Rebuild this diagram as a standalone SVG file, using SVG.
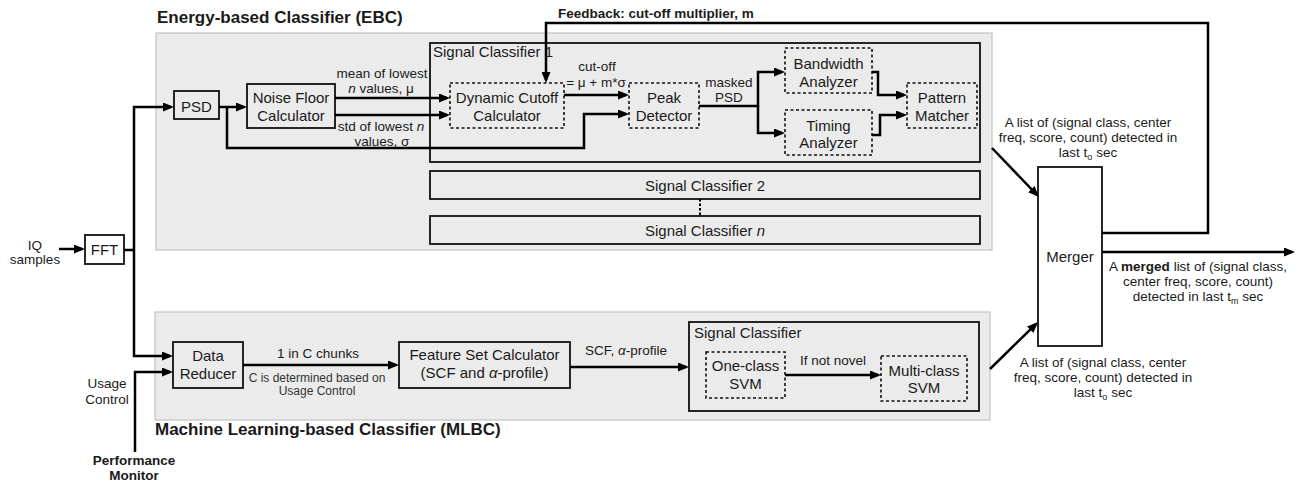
<svg xmlns="http://www.w3.org/2000/svg" width="1296" height="482" viewBox="0 0 1296 482">
  <style>
    text { font-family: "Liberation Sans", Arial, sans-serif; fill: #1a1a1a; }
    .t15 { font-size: 15px; }
    .t13 { font-size: 13.5px; }
    .t12 { font-size: 12px; fill: #333; }
    .title { font-size: 17px; font-weight: bold; }
    .bold { font-weight: bold; }
    .mid { text-anchor: middle; }
    .panel { fill: #ebebeb; stroke: #c4c4c4; stroke-width: 1.2; }
    .box { fill: none; stroke: #111; stroke-width: 1.8; }
    .wbox { fill: #fff; stroke: #111; stroke-width: 1.8; }
    .dash { fill: none; stroke: #111; stroke-width: 1.6; stroke-dasharray: 3 2.5; }
    .wire { fill: none; stroke: #000; stroke-width: 2.5; stroke-linejoin: miter; }
    .arr { marker-end: url(#ah); }
  </style>
  <defs>
    <marker id="ah" viewBox="0 0 11 9" refX="8" refY="4.5" markerWidth="11" markerHeight="9" markerUnits="userSpaceOnUse" orient="auto">
      <path d="M0,0 L11,4.5 L0,9 z" fill="#000"/>
    </marker>
  </defs>

  <!-- EBC panel -->
  <g id="ebc">
    <rect class="panel" x="156" y="33" width="836" height="217"/>
    <text class="title" x="157" y="23">Energy-based Classifier (EBC)</text>
  </g>

  <!-- MLBC panel -->
  <g id="mlbc">
    <rect class="panel" x="155" y="312" width="835" height="108"/>
    <text class="title" x="155" y="435">Machine Learning-based Classifier (MLBC)</text>
  </g>

  <!-- inputs -->
  <g id="iq-samples">
    <text class="t13 mid" x="35" y="250">IQ</text>
    <text class="t13 mid" x="35" y="264">samples</text>
  </g>
  <g id="fft">
    <rect class="wbox" x="85" y="235" width="39" height="29"/>
    <text class="t15 mid" x="104.5" y="255">FFT</text>
  </g>
  <g id="usage-control">
    <text class="t13 mid" x="107" y="388">Usage</text>
    <text class="t13 mid" x="107" y="404">Control</text>
  </g>
  <g id="performance-monitor">
    <text class="t13 mid bold" x="134" y="465">Performance</text>
    <text class="t13 mid bold" x="134" y="480">Monitor</text>
  </g>

  <!-- EBC nodes -->
  <g id="psd">
    <rect class="box" x="174" y="91" width="45" height="28"/>
    <text class="t15 mid" x="196.5" y="112">PSD</text>
  </g>
  <g id="noise-floor">
    <rect class="box" x="247" y="84" width="88" height="44"/>
    <text class="t15 mid" x="291" y="103">Noise Floor</text>
    <text class="t15 mid" x="291" y="121">Calculator</text>
  </g>
  <g id="signal-classifier-1">
    <rect class="box" x="430" y="43" width="550" height="119"/>
    <text class="t15" x="433" y="57">Signal Classifier 1</text>
  </g>
  <g id="dynamic-cutoff">
    <rect class="dash" x="450" y="83" width="114" height="45"/>
    <text class="t15 mid" x="507" y="103">Dynamic Cutoff</text>
    <text class="t15 mid" x="507" y="121">Calculator</text>
  </g>
  <g id="peak-detector">
    <rect class="dash" x="629" y="83" width="70" height="45"/>
    <text class="t15 mid" x="664" y="103">Peak</text>
    <text class="t15 mid" x="664" y="121">Detector</text>
  </g>
  <g id="bandwidth-analyzer">
    <rect class="dash" x="785" y="48" width="87" height="45"/>
    <text class="t15 mid" x="828.5" y="69">Bandwidth</text>
    <text class="t15 mid" x="828.5" y="87">Analyzer</text>
  </g>
  <g id="timing-analyzer">
    <rect class="dash" x="785" y="110" width="87" height="45"/>
    <text class="t15 mid" x="828.5" y="131">Timing</text>
    <text class="t15 mid" x="828.5" y="148">Analyzer</text>
  </g>
  <g id="pattern-matcher">
    <rect class="dash" x="907" y="83" width="70" height="45"/>
    <text class="t15 mid" x="942" y="103">Pattern</text>
    <text class="t15 mid" x="942" y="121">Matcher</text>
  </g>
  <g id="signal-classifier-2">
    <rect class="box" x="430" y="171" width="550" height="28"/>
    <text class="t15 mid" x="705" y="191">Signal Classifier 2</text>
  </g>
  <g id="signal-classifier-n">
    <rect class="box" x="430" y="216" width="550" height="28"/>
    <text class="t15 mid" x="705" y="236">Signal Classifier <tspan font-style="italic">n</tspan></text>
  </g>

  <!-- MLBC nodes -->
  <g id="data-reducer">
    <rect class="box" x="173" y="342" width="70" height="46"/>
    <text class="t15 mid" x="208" y="361">Data</text>
    <text class="t15 mid" x="208" y="379">Reducer</text>
  </g>
  <g id="feature-set">
    <rect class="box" x="399" y="342" width="171" height="46"/>
    <text class="t15 mid" x="484.5" y="360">Feature Set Calculator</text>
    <text class="t15 mid" x="484.5" y="378">(SCF and <tspan font-style="italic">α</tspan>-profile)</text>
  </g>
  <g id="signal-classifier">
    <rect class="box" x="689" y="322" width="290" height="89"/>
    <text class="t15" x="694" y="338">Signal Classifier</text>
  </g>
  <g id="one-class-svm">
    <rect class="dash" x="706" y="352" width="79" height="46"/>
    <text class="t15 mid" x="745.5" y="371">One-class</text>
    <text class="t15 mid" x="745.5" y="389">SVM</text>
  </g>
  <g id="multi-class-svm">
    <rect class="dash" x="881" y="356" width="86" height="45"/>
    <text class="t15 mid" x="924" y="376">Multi-class</text>
    <text class="t15 mid" x="924" y="393">SVM</text>
  </g>

  <!-- merger -->
  <g id="merger">
    <rect class="wbox" x="1038" y="167" width="64" height="179"/>
    <text class="t15 mid" x="1070" y="262">Merger</text>
  </g>

  <!-- connectors -->
  <g id="connectors">
    <path class="wire arr" d="M59,249 H82"/>
    <path class="wire" d="M124,250 H134"/>
    <path class="wire arr" d="M134,250 V107 H171"/>
    <path class="wire arr" d="M134,250 V356 H170"/>
    <path class="wire arr" d="M135,452 V372 H170"/>
    <path class="wire arr" d="M219,107 H244"/>
    <path class="wire arr" d="M227,107 V148 H584 V114 H626"/>
    <path class="wire arr" d="M335,98 H447"/>
    <path class="wire arr" d="M335,115 H447"/>
    <path class="wire arr" d="M564,95 H626"/>
    <path class="wire arr" d="M1102,233 H1208 V23 H546 V80"/>
    <path class="wire arr" d="M699,106 H758 V72 H782"/>
    <path class="wire arr" d="M758,106 V133 H782"/>
    <path class="wire arr" d="M872,72 H878 V95 H904"/>
    <path class="wire arr" d="M872,135 H880 V115 H904"/>
    <path class="wire arr" d="M992,148 L1036.9,194.8"/>
    <path class="wire arr" d="M990,369 L1035.9,324.1"/>
    <path class="wire arr" d="M1102,252 H1292"/>
    <path class="wire arr" d="M243,365 H396"/>
    <path class="wire arr" d="M570,367 H686"/>
    <path class="wire arr" d="M785,375 H878"/>
    <path d="M700,199 V216" fill="none" stroke="#000" stroke-width="2" stroke-dasharray="2.5 2"/>
  </g>

  <!-- connector labels -->
  <g id="labels">
    <text class="t13 bold" x="558" y="18">Feedback: cut-off multiplier, m</text>
    <text class="t13 mid" x="382" y="78">mean of lowest</text>
    <text class="t13 mid" x="381" y="93"><tspan font-style="italic">n</tspan> values, μ</text>
    <text class="t13 mid" x="381" y="131">std of lowest <tspan font-style="italic">n</tspan></text>
    <text class="t13 mid" x="382" y="146">values, σ</text>
    <text class="t13 mid" x="597" y="71">cut-off</text>
    <text class="t13 mid" x="596" y="87">= μ + m*σ</text>
    <text class="t13 mid" x="729" y="87">masked</text>
    <text class="t13 mid" x="729" y="102">PSD</text>
    <text class="t13 mid" x="1088" y="127">A list of (signal class, center</text>
    <text class="t13 mid" x="1088" y="142">freq, score, count) detected in</text>
    <text class="t13 mid" x="1088" y="157">last t<tspan font-size="9" dy="3">o</tspan><tspan dy="-3"> sec</tspan></text>
    <text class="t13 mid" x="1198" y="271">A <tspan font-weight="bold">merged</tspan> list of (signal class,</text>
    <text class="t13 mid" x="1198" y="286">center freq, score, count)</text>
    <text class="t13 mid" x="1198" y="301">detected in last t<tspan font-size="9" dy="3">m</tspan><tspan dy="-3"> sec</tspan></text>
    <text class="t13 mid" x="1103" y="367">A list of (signal class, center</text>
    <text class="t13 mid" x="1103" y="382">freq, score, count) detected in</text>
    <text class="t13 mid" x="1103" y="397">last t<tspan font-size="9" dy="3">o</tspan><tspan dy="-3"> sec</tspan></text>
    <text class="t13 mid" x="318" y="358">1 in C chunks</text>
    <text class="t12 mid" x="317" y="382">C is determined based on</text>
    <text class="t12 mid" x="317" y="395">Usage Control</text>
    <text class="t13 mid" x="626" y="355">SCF, <tspan font-style="italic">α</tspan>-profile</text>
    <text class="t13 mid" x="833" y="365">If not novel</text>
  </g>
</svg>
